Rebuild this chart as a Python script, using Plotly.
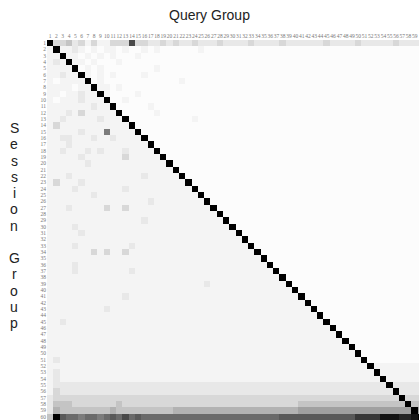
import plotly.graph_objects as go

query_groups = list(range(1, 61))
session_groups = list(range(1, 61))
tick_labels = [str(i) for i in range(1, 61)]

# similarity level per cell, hex digit 0..f (0 = white, f = black), row = session group
similarity_rows = [
    "f334231311 333b332232 3223222322 2232222322 2222322223 2222232222",
    "1f11210101 1010010100 0000100000 0000000000 0000000000 0000000000",
    "11f1101010 1000100000 0000000000 0000000000 0000000000 0000000000",
    "121f110100 0100000000 0000000000 0000000000 0000000000 0000000000",
    "1111f01010 0000000100 0000000000 0000000000 0000000000 0000000000",
    "11211f1010 1000010000 0000000000 0000000000 0000000000 0000000000",
    "101111f010 0000000000 0100000000 0000000000 0000000000 0000000000",
    "1111011f11 0100000000 0000000000 0000000000 0000000000 0000000000",
    "11011211f1 0000100000 0000000000 0000000000 0000000000 0000000000",
    "101112111f 0010000000 0000000000 0000000000 0000000000 0000000000",
    "1111111211 f000001000 0000000000 0000000000 0000000000 0000000000",
    "1112131111 1f00000100 0000000000 0000000000 0000000000 0000000000",
    "1121111121 11f0000000 0001000000 0000000000 0000000000 0000000000",
    "1311111111 111f000000 0000000000 0000000000 0000000000 0000000000",
    "1111121118 1111f00000 0000000000 0000000000 0000000000 0000000000",
    "1122111211 21111f0000 0000000000 0000000000 0000000000 0000000000",
    "1112111111 111111f000 0000000000 0000000000 0000000000 0000000000",
    "1121112121 1121111f00 0000000000 0000000000 0000000000 0000000000",
    "1111121111 11311111f0 0000000000 0000000000 0000000000 0000000000",
    "1111112111 111111111f 0000000000 0000000000 0000000000 0000000000",
    "1111111111 1111111111 f000000000 0000000000 0000000000 0000000000",
    "1112111111 1111121111 1f00000000 0000000000 0000000000 0000000000",
    "1311121111 1111111111 11f0000000 0000000000 0000000000 0000000000",
    "1111211111 1121111111 111f000000 0000000000 0000000000 0000000000",
    "1111111211 1111111111 1111f00000 0000000000 0000000000 0000000000",
    "1111111111 1111112111 11111f0000 0000000000 0000000000 0000000000",
    "1112111113 1131111111 111111f000 0000000000 0000000000 0000000000",
    "1111111111 1111111111 1111111f00 0000000000 0000000000 0000000000",
    "1111111111 1111121111 11111111f0 0000000000 0000000000 0000000000",
    "1111211111 1111111111 111111111f 0000000000 0000000000 0000000000",
    "1111121111 1111111111 1111111111 f000000000 0000000000 0000000000",
    "1111111111 1111111111 1111111111 1f00000000 0000000000 0000000000",
    "1111211111 1112111111 1111111111 11f0000000 0000000000 0000000000",
    "1111111313 1131111111 1111111111 111f000000 0000000000 0000000000",
    "1111111111 1111111111 1111111111 1111f00000 0000000000 0000000000",
    "1111211111 1111111111 1111111111 11111f0000 0000000000 0000000000",
    "1111211111 1112111111 1111111111 111111f000 0000000000 0000000000",
    "1111111111 1111111111 1111111111 1111111f00 0000000000 0000000000",
    "1111111111 1111111111 1111121111 11111111f0 0000000000 0000000000",
    "1111111111 1111111111 1111111111 111111111f 0000000000 0000000000",
    "1111111111 1121111111 1111111111 1111111111 f000000000 0000000000",
    "1111111111 1111111111 1111111111 1111111111 1f00000000 0000000000",
    "1111111112 1111111111 1111111111 1111111111 11f0000000 0000000000",
    "1111111111 1111111111 1111111111 1111111111 111f000000 0000000000",
    "1121111111 1111111111 1111111111 1111111111 1111f00000 0000000000",
    "1111111111 1111111111 1111111111 1111111111 11111f0000 0000000000",
    "1111111111 1111111111 1111111111 1111111111 111111f000 0000000000",
    "1111111111 1111111111 1111111111 1111111111 1111111f00 0000000000",
    "1111111111 1111111111 1111111111 1111111111 11111111f0 0000000000",
    "1111111111 1111111111 1111111111 1111111111 111111111f 0000000000",
    "1211111111 1111111111 1111111111 1111111111 1111111111 f000000000",
    "1111111111 1111111111 1111111111 1111111111 1111111111 1f11111111",
    "1211111111 1111111111 1111111111 1111111111 1111111111 11f1111111",
    "1211111111 1111111111 1111111111 1111111111 1111111111 111f111111",
    "1222222222 2222222222 2222222222 2222222222 2222222222 2222f22222",
    "1322222222 2222222222 2222222222 2222222222 2222222222 22222f2222",
    "2333333333 3333333333 3333333333 3333333333 3333333333 333333f333",
    "2444333333 3433333333 3333333333 3333333333 4444444444 4444444f44",
    "2544444444 5444444444 5555555555 5555555555 6666666666 66666666f6",
    "4fa9989989 a9b9a99999 9999999999 9999999aaa aaaaaaaaac ccceeeddef",
]

z = [[int(ch, 16) for ch in row.replace(" ", "")] for row in similarity_rows]

W, H = 419, 420
L, T = 47, 40

fig = go.Figure(go.Heatmap(
    z=z, x=query_groups, y=session_groups,
    zmin=0, zmax=15,
    colorscale=[
        [0.0, "#fcfcfc"],
        [1 / 15, "#f4f4f4"],
        [2 / 15, "#e8e8e8"],
        [3 / 15, "#d8d8d8"],
        [4 / 15, "#c4c4c4"],
        [6 / 15, "#a0a0a0"],
        [9 / 15, "#6a6a6a"],
        [12 / 15, "#383838"],
        [1.0, "#000000"],
    ],
    showscale=False,
))

fig.update_layout(
    width=W, height=H,
    margin=dict(l=L, r=0, t=T, b=0, pad=0),
    paper_bgcolor="white", plot_bgcolor="white",
    showlegend=False,
)
fig.update_xaxes(
    side="top", range=[0.5, 59.66],
    tickmode="array", tickvals=query_groups, ticktext=tick_labels,
    tickangle=0, ticks="", showgrid=False, zeroline=False, showline=False,
    tickfont=dict(family="Liberation Serif", size=5.5, color="#777"),
)
fig.update_yaxes(
    range=[60.5, 0.5],
    tickmode="array", tickvals=session_groups, ticktext=tick_labels,
    ticks="", showgrid=False, zeroline=False, showline=False,
    tickfont=dict(family="Liberation Serif", size=5.5, color="#777"),
)

def px_to_paper(px, py):
    return (px - L) / (W - L), (H - py) / (H - T)

x0, y0 = px_to_paper(209, 15)
fig.add_annotation(text="Query Group", x=x0, y=y0, xref="paper", yref="paper",
                   showarrow=False, xanchor="center", yanchor="middle",
                   font=dict(family="Liberation Sans", size=14, color="#222"))

letters = ["S", "e", "s", "s", "i", "o", "n", "", "G", "r", "o", "u", "p"]
for i, ch in enumerate(letters):
    if not ch:
        continue
    lx, ly = px_to_paper(14, 128 + i * 16.25)
    fig.add_annotation(text=ch, x=lx, y=ly, xref="paper", yref="paper",
                       showarrow=False, xanchor="center", yanchor="middle",
                       font=dict(family="Liberation Sans", size=14, color="#222"))

fig.write_html("out.html", config={"displayModeBar": False})
